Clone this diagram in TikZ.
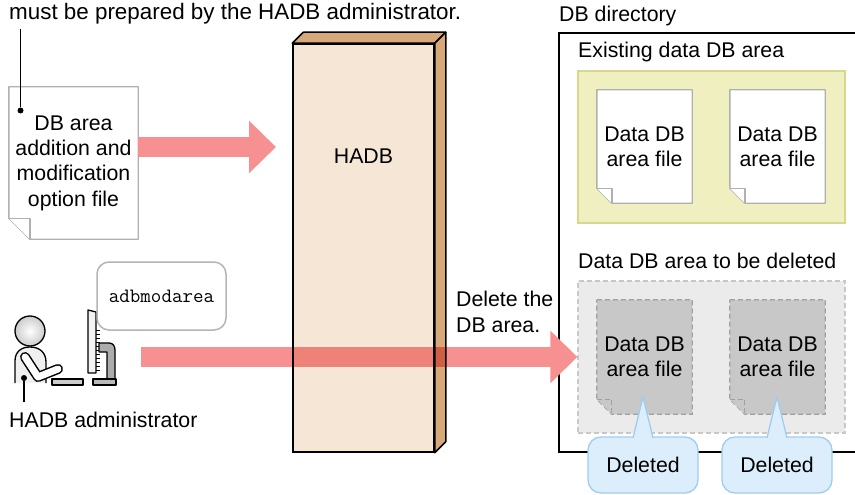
\documentclass[tikz,border=0pt]{standalone}
\usepackage{fontspec}
\setmainfont{Liberation Sans}
\usetikzlibrary{arrows.meta}

\definecolor{arrowpink}{RGB}{247,144,144}
\definecolor{hadbfront}{RGB}{246,230,214}
\definecolor{hadbside}{RGB}{214,168,122}
\definecolor{sheetline}{RGB}{176,176,176}
\definecolor{areayellow}{RGB}{240,239,192}
\definecolor{areayellowline}{RGB}{214,217,140}
\definecolor{areagray}{RGB}{235,235,235}
\definecolor{areagrayline}{RGB}{200,200,200}
\definecolor{delfill}{RGB}{200,200,200}
\definecolor{delline}{RGB}{160,160,160}
\definecolor{callfill}{RGB}{220,238,252}
\definecolor{callline}{RGB}{160,204,240}
\definecolor{bubbleline}{RGB}{180,180,180}

\pgfdeclarelayer{areas}
\pgfdeclarelayer{sheets}
\pgfsetlayers{areas,sheets,main}

% sheet outline with a folded lower-left corner: node, fold size, style
\newcommand\dogear[3]{%
  \draw[#3] (#1.north west) -- (#1.north east) -- (#1.south east)
    -- ([xshift=#2]#1.south west) -- ([yshift=#2]#1.south west) -- cycle;
  \draw[#3] ([yshift=#2]#1.south west) -- ([xshift=#2,yshift=#2]#1.south west)
    -- ([xshift=#2]#1.south west);}

\begin{document}
\begin{tikzpicture}[x=1pt,y=-1pt,
  font=\fontsize{21.3}{25.4}\selectfont,
  label/.style={inner sep=0pt, anchor=base west},
  sheet/.style={inner sep=0pt, align=center, minimum width=95pt, minimum height=113pt},
  whitesheet/.style={draw=sheetline, fill=white, line width=1.4pt, line join=round},
  greysheet/.style={draw=delline, fill=delfill, line width=1.3pt, dash pattern=on 5pt off 3pt},
  dot/.style={circle, fill=black, inner sep=0pt, minimum size=6pt},
  bigarrow/.style={draw=arrowpink, line width=20pt, -{Triangle[length=27pt,width=51pt]}},
  callout/.style={draw=callline, fill=callfill, line width=1.3pt, rounded corners=13pt,
    minimum width=110pt, minimum height=56pt, inner sep=0pt},
  pointer/.style={draw=callline, fill=callfill, line width=1.3pt, line join=round},
  person/.style={line width=1.3pt, line join=round}]

\useasboundingbox (0,0) rectangle (855,495);

% ---------- DB directory with its two areas ----------
\begin{pgfonlayer}{areas}
  \node[draw=black, line width=1.5pt, minimum width=303pt, minimum height=419pt, inner sep=0pt]
    (dbdir) at (710.5,242.5) {};
  \node[draw=areayellowline, fill=areayellow, line width=1.4pt, minimum width=267pt,
    minimum height=152pt, inner sep=0pt] (existing) at (711.5,147) {};
  \node[draw=areagrayline, fill=areagray, line width=1.3pt, dash pattern=on 5pt off 3pt,
    minimum width=267pt, minimum height=152pt, inner sep=0pt] (todelete) at (711.5,357) {};
\end{pgfonlayer}
\node[label] (dbdirlabel) at (559,22) {DB directory};
\node[label] (existinglabel) at (578,58) {Existing data DB area};
\node[label] (todeletelabel) at (578,268) {Data DB area to be deleted};

% data DB area files
\node[sheet] (file1) at (644.5,146.5) {Data DB\\area file};
\node[sheet] (file2) at (777.5,146.5) {Data DB\\area file};
\node[sheet, minimum height=114pt] (dfile1) at (644.5,357) {Data DB\\area file};
\node[sheet, minimum height=114pt] (dfile2) at (777.5,357) {Data DB\\area file};
\begin{pgfonlayer}{sheets}
  \dogear{file1}{15pt}{whitesheet}
  \dogear{file2}{15pt}{whitesheet}
  \dogear{dfile1}{15pt}{greysheet}
  \dogear{dfile2}{15pt}{greysheet}
\end{pgfonlayer}

% ---------- option file ----------
\node[inner sep=0pt, align=center, minimum width=129pt, minimum height=152pt]
  (optfile) at (73.5,163) {DB area\\addition and\\modification\\option file};
\begin{pgfonlayer}{sheets}
  \dogear{optfile}{21pt}{whitesheet}
\end{pgfonlayer}

\node[label, font=\fontsize{22.4}{26}\selectfont] (note) at (9,20)
  {must be prepared by the HADB administrator.};
\coordinate (noteend) at (20.5,29);
\node[dot] (notedot) at (20.5,110.5) {};
\draw[line width=1.3pt] (noteend) -- (notedot);

% ---------- HADB block ----------
\node[draw=black, fill=hadbfront, line width=1.5pt, minimum width=141pt, minimum height=408pt,
  inner sep=0pt] (hadb) at (363.5,248) {};
\draw[fill=hadbside, line width=1.5pt, line join=round]
  (hadb.north west) -- ++(11,-11) -- ([xshift=11pt,yshift=11pt]hadb.north east)
  -- (hadb.north east) -- cycle;
\draw[fill=hadbside, line width=1.5pt, line join=round]
  (hadb.north east) -- ([xshift=11pt,yshift=11pt]hadb.north east)
  -- ([xshift=11pt,yshift=11pt]hadb.south east) -- (hadb.south east) -- cycle;
\node[inner sep=0pt] (hadblabel) at (363.5,156.5) {HADB};

% ---------- administrator at the terminal ----------
\draw[person, fill=gray!12] (15,383) -- (15,361) .. controls (15,352) and (21,347) .. (30,347)
  .. controls (40,347) and (46,353) .. (46,362) -- (46,383);
\draw[line width=10pt, line cap=round, line join=round] (25,357) -- (38,377) -- (58,369);
\draw[line width=7pt, white, line cap=round, line join=round] (25,357) -- (38,377) -- (58,369);
\path[draw, person, inner color=white, outer color=gray!40] (30,331) circle[radius=15pt];
\draw[person, fill=gray!40] (52,379) rectangle (83,385);
\draw[person, fill=gray!10] (88,310) -- (96,312) -- (96,373) -- (88,373) -- cycle;
\foreach \t in {0,...,10} \draw[line width=0.6pt] (96,{330+4*\t}) -- (100,{330+4*\t});
\draw[person, fill=gray!65] (99,343) -- (109,343) .. controls (113,343) and (115,346) .. (115,350)
  -- (115,380) -- (107,380) -- (107,352) -- (99,352) -- cycle;
\draw[person, fill=gray!55] (93,379) rectangle (116,385);

\node[dot] (admindot) at (24,378) {};
\coordinate (adminlead) at (24,402);
\draw[line width=1.3pt] (admindot) -- (adminlead);
\node[label] (admin) at (9,427) {HADB administrator};

\node[draw=bubbleline, fill=white, line width=1.5pt, rounded corners=12pt, minimum width=129pt,
  minimum height=68pt, inner sep=0pt, font=\ttfamily\fontsize{20.4}{24}\selectfont]
  (cmd) at (161.5,296) {adbmodarea};

% ---------- flows ----------
\coordinate (a1end) at (276,147);
\draw[bigarrow] (optfile.east |- a1end) -- (a1end);

\coordinate (a2start) at (141,357);
\begin{scope}[blend mode=multiply]
  \clip (0,0) rectangle (447,495);
  \draw[bigarrow] (a2start) -- (todelete.west);
\end{scope}
\begin{scope}
  \clip (447,0) rectangle (855,495);
  \draw[bigarrow] (a2start) -- (todelete.west);
\end{scope}
\node[inner sep=0pt, anchor=west, align=left] (dellabel) at (456,312) {Delete the\\DB area.};

% ---------- "Deleted" callouts ----------
\node[callout] (del1) at (643,465) {Deleted};
\node[callout] (del2) at (777,465) {Deleted};
\coordinate (tip1) at (643,397);
\coordinate (tip2) at (777,397);
\filldraw[pointer] ([xshift=-10pt,yshift=-1.5pt]del1.north) -- (tip1) -- ([xshift=10pt,yshift=-1.5pt]del1.north);
\filldraw[pointer] ([xshift=-10pt,yshift=-1.5pt]del2.north) -- (tip2) -- ([xshift=10pt,yshift=-1.5pt]del2.north);

\end{tikzpicture}
\end{document}
